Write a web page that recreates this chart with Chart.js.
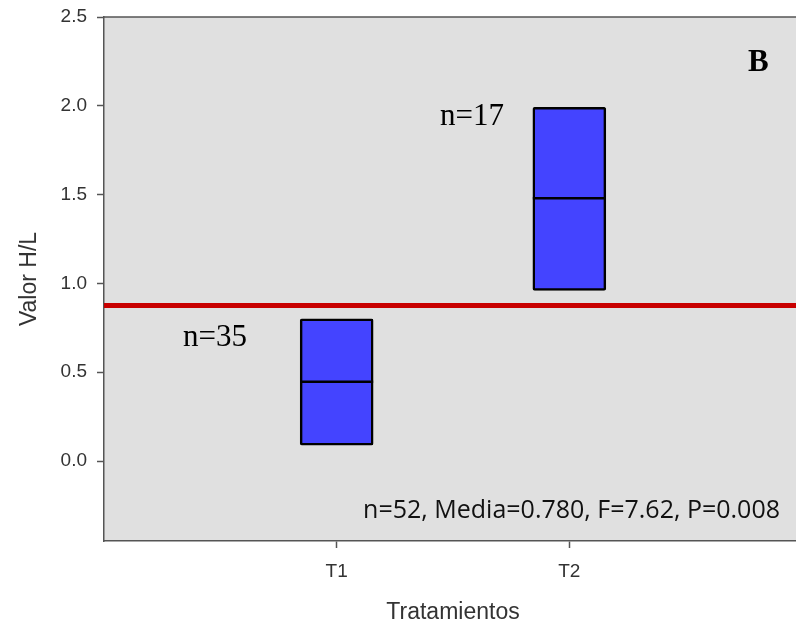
<!DOCTYPE html>
<html>
<head>
<meta charset="utf-8">
<script src="https://cdn.jsdelivr.net/npm/chart.js@4/dist/chart.umd.min.js"></script>
<style>
  html, body { margin: 0; padding: 0; background: #ffffff; overflow: hidden; }
  #wrap { width: 802px; height: 626px; }
</style>
</head>
<body>
<div id="wrap"><canvas id="c" width="802" height="626"></canvas></div>
<script>
// Treatment groups and their H/L ratio boxes
const categories = ['T1', 'T2'];
const boxLow = [0.089, 0.961];
const boxHigh = [0.801, 1.992];
const boxMedian = [0.446, 1.479];
const sampleSizes = [35, 17];
// Reference level drawn across the plot
const referenceLevel = 0.876;
const yTicks = [0.0, 0.5, 1.0, 1.5, 2.0, 2.5];
const panelLetter = 'B';
const statsText = 'n=52, Media=0.780, F=7.62, P=0.008';

const boxData = categories.map((c, i) => ({ x: i + 1, y: [boxLow[i], boxHigh[i]] }));

const axisColor = '#555555';
const textColor = '#333333';
const sansFamily = '"Liberation Sans", Arial, sans-serif';
// where each "n=" label sits (left edge, baseline)
const sampleLabelPos = [[183, 346], [440, 125]];

const panelPlugin = {
  id: 'panel',
  beforeDraw(chart) {
    const { ctx, chartArea: a } = chart;
    ctx.save();
    ctx.fillStyle = '#e0e0e0';
    ctx.fillRect(a.left, a.top, a.right - a.left, a.bottom - a.top);
    // top frame line
    ctx.strokeStyle = axisColor;
    ctx.lineWidth = 1.5;
    ctx.beginPath();
    ctx.moveTo(a.left, a.top);
    ctx.lineTo(a.right, a.top);
    ctx.stroke();
    ctx.restore();
  },
  beforeDatasetsDraw(chart) {
    const { ctx, chartArea: a, scales: { y } } = chart;
    const py = y.getPixelForValue(referenceLevel);
    ctx.save();
    ctx.strokeStyle = '#c80000';
    ctx.lineWidth = 5;
    ctx.beginPath();
    ctx.moveTo(a.left, py);
    ctx.lineTo(a.right, py);
    ctx.stroke();
    ctx.restore();
  },
  afterDatasetsDraw(chart) {
    const { ctx, scales: { y } } = chart;
    const meta = chart.getDatasetMeta(0);
    ctx.save();
    // median line inside each box
    ctx.strokeStyle = '#000000';
    ctx.lineWidth = 2.5;
    meta.data.forEach((bar, i) => {
      const py = y.getPixelForValue(boxMedian[i]);
      const half = bar.width / 2;
      ctx.beginPath();
      ctx.moveTo(bar.x - half, py);
      ctx.lineTo(bar.x + half, py);
      ctx.stroke();
    });
    // sample size labels
    ctx.fillStyle = '#000000';
    ctx.font = '31px "Liberation Serif", "Times New Roman", serif';
    ctx.textAlign = 'left';
    ctx.textBaseline = 'alphabetic';
    sampleSizes.forEach((n, i) => {
      ctx.fillText('n=' + n, sampleLabelPos[i][0], sampleLabelPos[i][1]);
    });
    // panel letter
    ctx.font = 'bold 31px "Liberation Serif", "Times New Roman", serif';
    ctx.fillText(panelLetter, 748, 71);
    // summary statistics
    ctx.font = '25px "Open Sans", "Noto Sans", sans-serif';
    ctx.textAlign = 'right';
    ctx.fillStyle = '#111111';
    ctx.fillText(statsText, 780, 518, 436);
    ctx.restore();
  }
};

new Chart(document.getElementById('c'), {
  type: 'bar',
  data: {
    datasets: [{
      data: boxData,
      backgroundColor: '#4444ff',
      borderColor: '#000000',
      borderWidth: 2.5,
      borderSkipped: false,
      borderRadius: 2,
      barThickness: 73
    }]
  },
  options: {
    responsive: false,
    animation: false,
    events: [],
    layout: { padding: { top: 17, left: 0, right: 0, bottom: 0 } },
    plugins: { legend: { display: false }, tooltip: { enabled: false } },
    scales: {
      x: {
        type: 'linear',
        min: 0,
        max: 3,
        offset: false,
        afterBuildTicks(scale) {
          scale.ticks = categories.map((c, i) => ({ value: i + 1 }));
        },
        afterFit(scale) { scale.height = 85; scale.paddingLeft = 0; scale.paddingRight = 0; },
        ticks: {
          callback: (v) => categories[v - 1] || '',
          color: textColor,
          font: { family: sansFamily, size: 19 },
          padding: 12,
          maxRotation: 0
        },
        grid: { offset: false, drawOnChartArea: false, drawTicks: true, tickLength: 7, tickColor: axisColor, tickWidth: 1.5 },
        border: { display: true, color: axisColor, width: 1.5 },
        title: {
          display: true,
          text: 'Tratamientos',
          color: textColor,
          font: { family: sansFamily, size: 23 },
          padding: { top: 0, bottom: 0 }
        }
      },
      y: {
        type: 'linear',
        min: -0.45,
        max: 2.5,
        afterBuildTicks(scale) {
          scale.ticks = yTicks.map(v => ({ value: v }));
        },
        afterFit(scale) { scale.width = 104; scale.paddingTop = 0; scale.paddingBottom = 0; },
        ticks: {
          callback: (v) => Number(v).toFixed(1),
          color: textColor,
          font: { family: sansFamily, size: 19 },
          padding: 10
        },
        grid: { drawOnChartArea: false, drawTicks: true, tickLength: 7, tickColor: axisColor, tickWidth: 1.5 },
        border: { display: true, color: axisColor, width: 1.5 },
        title: {
          display: true,
          text: 'Valor H/L',
          color: textColor,
          font: { family: sansFamily, size: 23 },
          padding: { top: 16, bottom: 0 }
        }
      }
    }
  },
  plugins: [panelPlugin]
});
</script>
</body>
</html>
